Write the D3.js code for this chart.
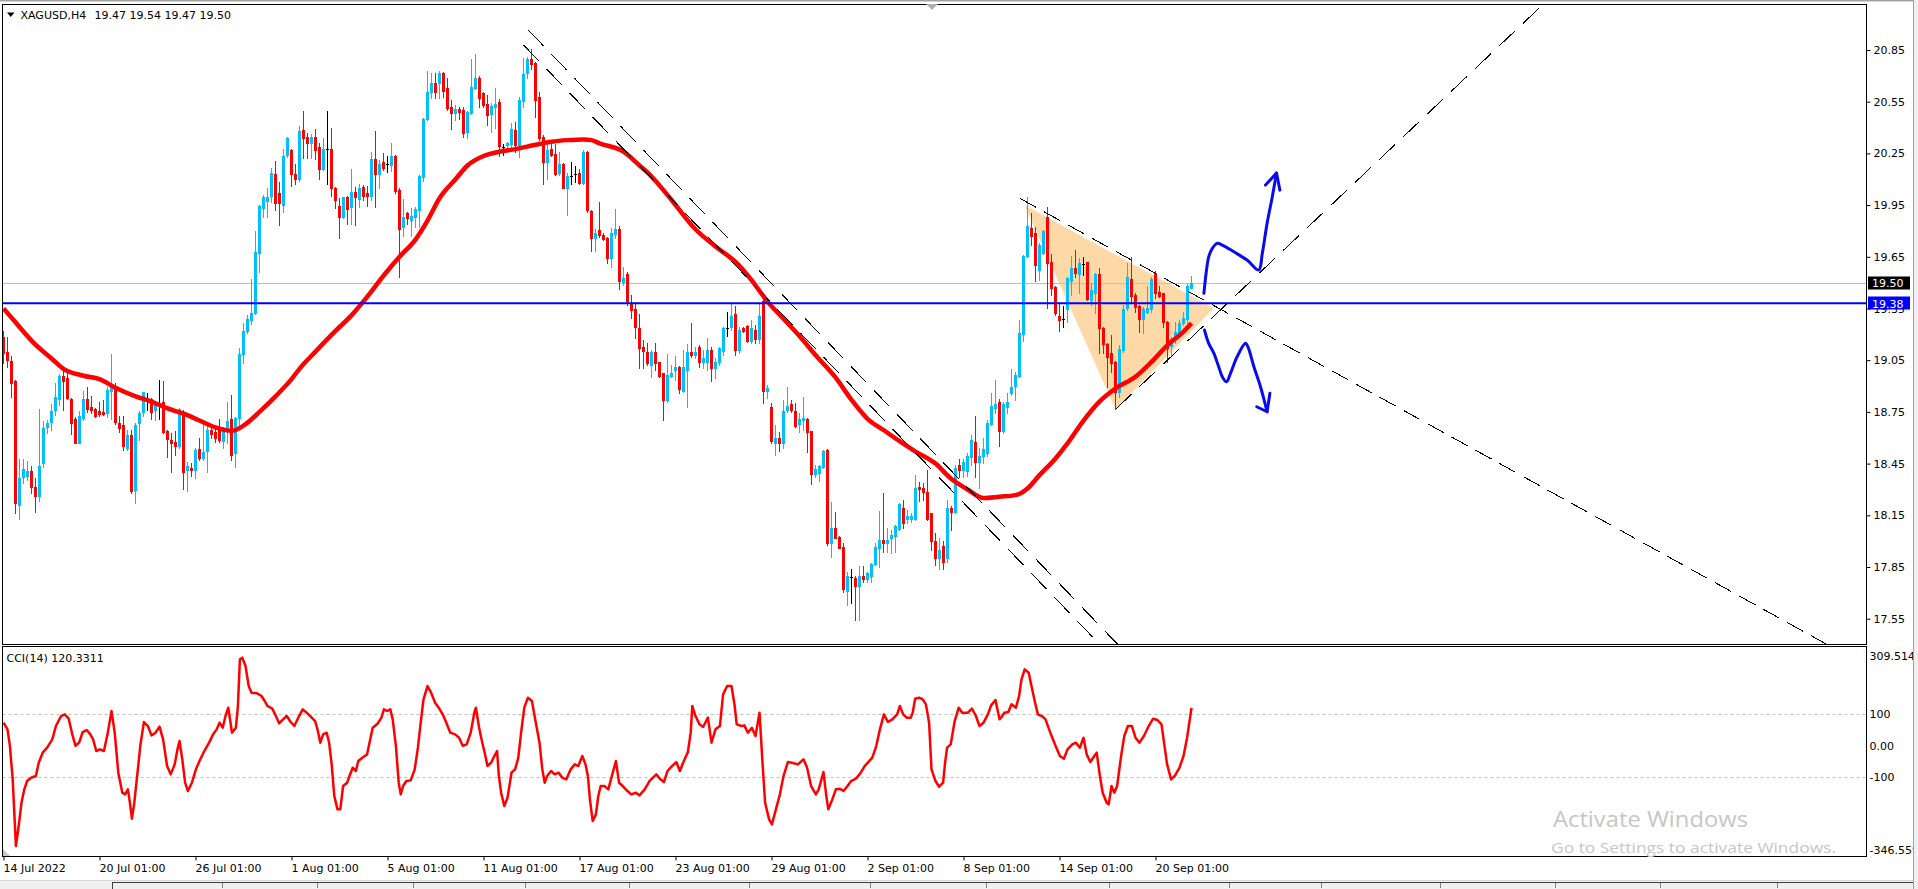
<!DOCTYPE html>
<html><head><meta charset="utf-8">
<script src="https://cdn.jsdelivr.net/npm/d3@7"></script>
<style>
html,body{margin:0;padding:0;background:#fff;overflow:hidden}
svg{display:block}
text{font-family:"DejaVu Sans",sans-serif;font-size:11px;fill:#000}
</style></head><body>
<svg id="c" width="1918" height="889"></svg>
<script>
// ---------------- DATA ----------------
const symbolTitle = "XAGUSD,H4";
const titleOHLC = "19.47 19.54 19.47 19.50";
const cciTitle = "CCI(14) 120.3311";

const opens = [19.186,19.099,19.045,18.929,18.209,18.374,18.378,18.407,18.316,18.262,
18.451,18.664,18.693,18.761,18.823,18.960,18.948,18.825,18.709,18.571,
18.712,18.825,18.776,18.765,18.755,18.749,18.741,18.873,18.900,18.687,
18.674,18.542,18.616,18.296,18.683,18.747,18.815,18.823,18.761,18.803,
18.809,18.639,18.587,18.577,18.554,18.751,18.413,18.426,18.413,18.534,
18.484,18.523,18.645,18.635,18.664,18.581,18.641,18.709,18.513,18.712,
19.084,19.221,19.283,19.322,19.674,19.935,19.976,20.003,20.130,20.018,
19.951,20.241,20.270,20.130,20.099,20.386,20.343,20.308,20.343,20.289,
20.159,20.273,20.275,20.047,19.945,19.883,19.999,19.937,20.024,19.985,
20.053,20.018,20.004,20.217,20.130,20.198,20.186,20.182,20.235,20.037,
19.825,19.902,19.863,19.883,19.921,20.115,20.449,20.604,20.660,20.656,
20.718,20.631,20.517,20.486,20.508,20.502,20.376,20.486,20.631,20.689,
20.598,20.535,20.477,20.521,20.550,20.289,20.299,20.304,20.386,20.299,
20.556,20.715,20.798,20.773,20.579,20.347,20.198,20.273,20.244,20.134,
20.188,20.051,20.121,20.128,20.138,20.076,20.260,19.916,19.757,19.805,
19.776,19.757,19.644,19.780,19.810,19.505,19.550,19.376,19.345,19.234,
19.128,19.099,19.021,19.099,19.037,18.973,18.818,18.960,18.996,19.012,
18.871,18.996,19.095,19.079,19.128,19.041,19.041,19.109,19.002,19.037,
19.105,19.234,19.244,19.317,19.109,19.238,19.248,19.163,19.225,19.172,
19.393,18.871,18.780,18.571,18.596,18.567,18.760,18.795,18.755,18.679,
18.702,18.708,18.638,18.389,18.393,18.428,18.528,17.990,18.077,18.025,
17.967,17.710,17.793,17.787,17.741,17.799,17.783,17.797,17.865,17.963,
18.006,17.990,18.016,18.031,18.073,18.190,18.126,18.126,18.126,18.312,
18.306,18.287,18.161,18.000,17.900,17.970,17.900,18.190,18.171,18.441,
18.412,18.409,18.490,18.577,18.461,18.494,18.509,18.679,18.774,18.809,
18.641,18.780,18.857,18.900,18.958,19.202,19.654,19.815,19.790,19.573,
19.674,19.883,19.621,19.476,19.306,19.287,19.345,19.509,19.583,19.550,
19.608,19.618,19.399,19.442,19.548,19.235,19.144,19.089,19.041,18.867,
19.109,19.351,19.519,19.428,19.364,19.287,19.331,19.345,19.554,19.444,
19.438,19.273,19.134,19.167,19.206,19.264,19.287,19.470];

const highs = [19.221,19.186,19.074,18.935,18.476,18.476,18.465,18.436,18.368,18.767,
18.697,18.703,18.794,18.919,18.970,19.001,18.974,18.830,18.722,18.755,
18.871,18.894,18.842,18.770,18.809,18.819,18.896,19.086,18.916,18.726,
18.726,18.645,18.645,18.683,18.757,18.867,18.861,18.829,18.815,18.935,
18.929,18.645,18.625,18.639,18.771,18.761,18.461,18.451,18.538,18.596,
18.693,18.693,18.664,18.654,18.707,18.664,18.809,18.848,18.718,19.119,
19.264,19.312,19.519,19.800,19.951,20.009,20.051,20.163,20.206,20.086,
20.274,20.343,20.275,20.188,20.409,20.496,20.370,20.362,20.389,20.312,
20.337,20.496,20.395,20.057,19.989,19.999,20.004,20.159,20.057,20.070,
20.066,20.061,20.260,20.380,20.211,20.250,20.235,20.308,20.240,20.047,
19.985,19.908,19.935,19.941,20.124,20.457,20.728,20.715,20.715,20.728,
20.724,20.689,20.560,20.531,20.521,20.517,20.496,20.796,20.827,20.699,
20.604,20.589,20.540,20.631,20.564,20.302,20.314,20.424,20.434,20.579,
20.802,20.811,20.854,20.780,20.608,20.357,20.328,20.302,20.302,20.260,
20.192,20.134,20.198,20.177,20.157,20.270,20.264,19.920,19.809,19.970,
19.786,19.766,19.820,19.930,19.830,19.592,19.563,19.428,19.389,19.316,
19.167,19.147,19.109,19.147,19.041,18.978,19.085,19.022,19.074,19.016,
19.109,19.143,19.267,19.128,19.138,19.109,19.180,19.128,19.064,19.128,
19.244,19.331,19.383,19.364,19.244,19.244,19.252,19.283,19.254,19.389,
19.397,18.905,18.803,18.673,18.635,18.818,18.896,18.818,18.799,18.741,
18.838,18.712,18.642,18.441,18.441,18.528,18.532,18.228,18.170,18.029,
17.987,17.822,17.836,17.799,17.855,17.855,17.822,17.875,17.987,18.174,
18.277,18.077,18.064,18.093,18.219,18.238,18.180,18.161,18.383,18.345,
18.335,18.412,18.165,18.050,18.020,18.000,18.238,18.203,18.441,18.474,
18.474,18.513,18.616,18.726,18.538,18.596,18.703,18.857,18.935,18.822,
18.809,18.857,18.997,18.983,19.283,19.660,19.999,19.902,19.825,19.728,
19.805,19.941,19.666,19.480,19.374,19.364,19.534,19.654,19.689,19.641,
19.650,19.622,19.496,19.554,19.583,19.244,19.148,19.196,19.045,19.138,
19.370,19.612,19.647,19.438,19.370,19.360,19.480,19.534,19.569,19.480,
19.442,19.279,19.186,19.273,19.283,19.331,19.492,19.540];

const lows = [19.035,19.012,18.834,18.165,18.126,18.335,18.354,18.277,18.171,18.235,
18.432,18.625,18.645,18.732,18.790,18.761,18.823,18.621,18.567,18.567,
18.703,18.751,18.745,18.722,18.728,18.732,18.718,18.707,18.680,18.635,
18.529,18.529,18.277,18.223,18.587,18.728,18.761,18.709,18.703,18.709,
18.625,18.490,18.403,18.500,18.538,18.300,18.293,18.378,18.364,18.471,
18.471,18.403,18.596,18.577,18.577,18.538,18.567,18.471,18.432,18.664,
19.032,19.206,19.258,19.316,19.564,19.883,19.883,19.970,19.921,19.834,
19.912,20.230,20.061,20.072,20.090,20.225,20.221,20.225,20.215,20.101,
20.153,20.072,20.004,19.935,19.761,19.873,19.840,19.840,19.834,19.941,
19.979,19.945,19.979,19.941,20.047,20.153,20.144,20.150,20.018,19.534,
19.772,19.840,19.772,19.825,19.825,20.092,20.444,20.569,20.573,20.569,
20.579,20.502,20.391,20.444,20.448,20.343,20.337,20.478,20.622,20.521,
20.517,20.415,20.376,20.395,20.235,20.241,20.270,20.270,20.260,20.231,
20.521,20.685,20.738,20.463,20.328,20.072,20.101,20.235,20.124,20.124,
20.047,19.892,20.072,20.082,20.072,20.072,19.912,19.685,19.685,19.767,
19.747,19.615,19.592,19.760,19.466,19.486,19.370,19.292,19.176,19.002,
19.002,19.021,18.954,18.992,18.954,18.702,18.809,18.954,18.934,18.857,
18.867,18.780,19.066,19.060,19.012,19.002,18.992,18.931,18.944,19.021,
19.080,19.190,19.228,19.080,19.093,19.215,19.157,19.147,19.147,19.147,
18.803,18.832,18.567,18.499,18.524,18.538,18.751,18.751,18.664,18.635,
18.644,18.515,18.331,18.373,18.350,18.422,17.977,17.909,18.016,17.960,
17.706,17.629,17.642,17.541,17.541,17.764,17.764,17.764,17.861,17.851,
17.938,17.938,17.934,17.938,18.064,18.074,18.103,18.112,18.122,18.234,
18.238,18.122,17.950,17.860,17.840,17.840,17.880,18.064,18.161,18.374,
18.374,18.378,18.441,18.374,18.306,18.455,18.494,18.674,18.741,18.554,
18.625,18.741,18.848,18.819,18.954,19.163,19.651,19.718,19.511,19.515,
19.666,19.351,19.428,19.312,19.221,19.244,19.273,19.428,19.534,19.438,
19.544,19.399,19.370,19.322,19.093,19.093,18.896,18.983,18.765,18.838,
19.099,19.341,19.389,19.331,19.215,19.206,19.326,19.331,19.409,19.415,
19.244,19.041,19.080,19.148,19.186,19.254,19.264,19.470];

const closes = [19.093,19.051,18.916,18.223,18.368,18.418,18.409,18.312,18.262,18.436,
18.658,18.687,18.755,18.838,18.960,18.931,18.832,18.683,18.571,18.726,
18.823,18.767,18.761,18.726,18.736,18.736,18.877,18.896,18.689,18.654,
18.554,18.616,18.293,18.674,18.745,18.863,18.815,18.751,18.790,18.803,
18.635,18.592,18.567,18.554,18.765,18.403,18.436,18.413,18.529,18.480,
18.519,18.645,18.620,18.596,18.587,18.645,18.697,18.500,18.712,19.086,
19.221,19.289,19.322,19.680,19.945,19.999,19.999,20.134,19.960,19.964,
20.235,20.337,20.130,20.101,20.380,20.341,20.308,20.347,20.270,20.159,
20.275,20.273,20.047,19.979,19.883,19.995,19.927,20.024,19.999,20.047,
20.004,20.004,20.217,20.128,20.188,20.163,20.186,20.235,20.032,19.811,
19.883,19.877,19.887,19.927,20.121,20.449,20.608,20.656,20.604,20.718,
20.612,20.515,20.486,20.508,20.492,20.366,20.492,20.637,20.685,20.573,
20.531,20.473,20.525,20.537,20.295,20.289,20.308,20.389,20.299,20.560,
20.709,20.796,20.767,20.560,20.337,20.198,20.270,20.241,20.130,20.188,
20.051,20.119,20.121,20.128,20.076,20.260,19.921,19.761,19.790,19.776,
19.751,19.641,19.790,19.810,19.509,19.528,19.393,19.341,19.244,19.122,
19.103,19.035,19.099,19.035,18.960,18.818,18.967,18.977,19.008,18.882,
19.012,19.099,19.079,19.099,19.041,19.060,19.109,19.002,19.041,19.118,
19.238,19.234,19.306,19.109,19.228,19.221,19.163,19.238,19.172,19.306,
18.871,18.890,18.580,18.596,18.571,18.755,18.784,18.760,18.667,18.706,
18.712,18.635,18.389,18.418,18.435,18.524,17.987,18.077,18.021,17.963,
17.720,17.799,17.793,17.741,17.797,17.783,17.816,17.870,17.967,18.006,
17.987,18.006,18.035,18.089,18.215,18.103,18.145,18.145,18.306,18.300,
18.287,18.126,18.000,17.900,17.950,17.880,18.190,18.171,18.422,18.412,
18.461,18.494,18.587,18.461,18.494,18.532,18.683,18.784,18.795,18.641,
18.795,18.809,18.892,18.964,19.206,19.654,19.829,19.772,19.602,19.718,
19.800,19.616,19.471,19.322,19.283,19.287,19.529,19.583,19.554,19.612,
19.608,19.403,19.457,19.548,19.235,19.144,19.070,19.035,18.867,19.113,
19.347,19.534,19.422,19.360,19.287,19.347,19.351,19.519,19.442,19.422,
19.273,19.119,19.171,19.215,19.264,19.293,19.480,19.500];

// moving average: [bar, price]
const maPoints = [[0,19.35],[3,19.27],[8,19.14],[12,19.06],[15,19.00],[20,18.96],[24,18.94],[28,18.89],
[33,18.84],[37,18.81],[41,18.77],[45,18.74],[49,18.70],[53,18.66],[57,18.64],[60,18.67],[64,18.75],
[68,18.84],[72,18.94],[74,19.00],[78,19.10],[83,19.22],[87,19.31],[91,19.42],[95,19.54],[99,19.65],
[103,19.75],[106,19.86],[109,19.99],[113,20.10],[116,20.18],[120,20.235],[124,20.26],[128,20.275],
[133,20.30],[137,20.318],[141,20.327],[145,20.331],[147,20.327],[149,20.308],[155,20.26],[159,20.18],
[161,20.14],[167,19.98],[173,19.81],[178,19.71],[183,19.62],[187,19.515],[191,19.39],[195,19.29],
[199,19.19],[203,19.08],[208,18.95],[212,18.82],[216,18.71],[220,18.645],[224,18.58],[228,18.52],
[233,18.45],[237,18.36],[241,18.30],[245,18.25],[249,18.258],[253,18.267],[256,18.306],[259,18.383],
[263,18.48],[266,18.567],[270,18.70],[274,18.81],[278,18.886],[283,18.954],[287,19.04],[291,19.138],
[295,19.215],[297,19.264]];

// CCI(14): [bar, value]
const cciPoints = [[0,73.4],[1.0,52.2],[1.6,0],[2.3,-106.5],[3.1,-318.1],[3.8,-254.6],[4.5,-180.6],[5.2,-138.2],
[5.9,-111.8],[6.9,-101.2],[8.1,-95.9],[8.8,-53.6],[9.8,-21.8],[10.9,-5.9],[12.2,20.5],[13.1,62.8],[14.4,94.6],
[15.3,99.9],[16.3,86.1],[17.2,36.4],[18.0,0],[18.9,10.0],[19.8,43.8],[20.8,50.1],[21.7,36.4],[22.4,20.5],
[23.2,-16.5],[24.1,-11.2],[25.1,-16.5],[26.0,36.4],[27.0,110.5],[27.8,41.7],[28.7,-85.3],[29.7,-148.8],
[30.4,-154.1],[31.1,-138.2],[31.6,-180.6],[32.1,-231.3],[32.7,-180.6],[33.5,-85.3],[34.2,0],[35.1,75.5],
[36.1,62.8],[37.0,33.2],[38.0,41.7],[39.0,60.7],[39.9,20.5],[40.9,-64.2],[41.8,-90.6],[42.8,-58.9],
[43.5,-11.2],[44.0,15.2],[44.7,-43.0],[45.4,-117.1],[46.1,-143.5],[47.1,-117.1],[48.1,-74.7],[49.0,-48.3],
[50.2,-16.5],[51.4,10.0],[52.4,36.4],[53.3,52.2],[54.0,73.4],[54.8,57.5],[55.5,94.6],[56.2,121.0],
[56.7,78.7],[57.1,41.7],[58.1,57.5],[58.6,126.3],[59.1,274.5],[59.7,279.8],[60.5,253.3],[61.3,189.8],
[62.0,168.7],[63.4,166.5],[64.5,158.1],[65.3,142.2],[66.0,126.3],[67.2,117.9],[67.9,99.9],[68.9,71.3],
[69.9,84.0],[70.8,94.6],[71.8,75.5],[72.7,62.8],[73.7,89.3],[74.8,115.7],[75.8,105.2],[76.8,92.5],
[77.9,78.7],[78.5,52.2],[79.2,10.0],[79.9,36.4],[80.8,41.7],[81.4,10.0],[82.0,-53.6],[82.7,-159.4],
[83.5,-201.7],[84.2,-201.7],[84.9,-127.6],[85.9,-117.1],[86.5,-95.9],[87.3,-69.4],[88.1,-80.0],[88.7,-48.3],
[89.7,-37.7],[90.9,-27.1],[91.6,15.2],[92.3,57.5],[93.5,70.2],[94.5,89.3],[95.1,115.7],[95.9,110.5],
[96.7,115.7],[97.3,84.0],[98.1,0],[98.8,-117.1],[99.3,-154.1],[99.9,-127.6],[100.7,-111.8],[101.8,-109.7],
[102.8,-74.7],[103.6,-5.9],[104.3,73.4],[105.0,147.5],[106.0,189.8],[106.9,168.7],[107.9,136.9],[108.8,121.0],
[109.8,99.9],[110.7,73.4],[111.7,41.7],[112.9,36.4],[113.9,25.8],[114.8,0],[115.8,4.6],[116.8,41.7],
[117.7,105.2],[118.1,121.0],[118.9,57.5],[119.6,15.2],[120.3,-21.8],[121.0,-64.2],[121.9,-53.6],[122.7,-32.4],
[123.4,-16.5],[123.8,-90.6],[124.4,-148.8],[125.2,-191.1],[126.0,-164.7],[127.0,-85.3],[127.9,-74.7],
[128.7,-37.7],[129.4,41.7],[130.2,121.0],[131.1,152.8],[132.1,142.2],[133.0,78.7],[134.0,10.0],[134.7,-74.7],
[135.3,-117.1],[135.9,-95.9],[136.9,-80.0],[137.8,-90.6],[138.8,-85.3],[139.7,-101.2],[140.7,-106.5],
[141.8,-74.7],[142.8,-58.9],[143.7,-64.2],[144.7,-32.4],[145.5,-58.9],[146.1,-95.9],[146.6,-170.0],
[147.3,-238.8],[148.1,-217.6],[148.7,-159.4],[149.3,-127.6],[150.2,-127.6],[151.2,-138.2],[152.2,-90.6],
[153.1,-48.3],[153.9,-117.1],[154.8,-127.6],[156.0,-143.5],[156.9,-154.1],[158.1,-148.8],[159.0,-157.3],
[160.3,-138.2],[161.5,-111.8],[163.2,-90.6],[164.1,-104.4],[165.1,-114.9],[166.0,-80.0],[167.0,-66.3],
[168.2,-51.5],[169.1,-80.0],[169.9,-53.6],[171.1,-19.7],[171.8,41.7],[172.2,126.3],[173.0,94.6],[174.0,68.1],
[174.9,59.7],[176.1,89.3],[177.0,10.0],[178.0,52.2],[179.1,62.8],[179.9,163.4],[180.9,189.8],[182.0,189.8],
[182.8,126.3],[183.3,68.1],[184.5,62.8],[185.2,64.9],[186.1,41.7],[187.1,57.5],[188.0,31.1],[189.0,105.2],
[189.7,-43.0],[190.4,-180.6],[191.4,-233.5],[192.1,-249.4],[193.1,-201.7],[194.1,-154.1],[195.0,-95.9],
[196.1,-51.5],[197.1,-53.6],[198.6,-58.9],[200.0,-43.0],[200.9,-69.4],[201.9,-127.6],[203.1,-154.1],
[203.8,-138.2],[205.0,-83.2],[205.7,-159.4],[206.2,-201.7],[207.2,-170.0],[208.1,-138.2],[209.1,-136.1],
[210.0,-143.5],[211.0,-127.6],[211.9,-111.8],[213.2,-103.3],[214.3,-85.3],[215.3,-64.2],[217.2,-37.7],
[218.2,0],[219.1,52.2],[220.1,99.9],[221.1,75.5],[222.2,84.0],[223.4,99.9],[224.1,126.3],[224.9,99.9],
[225.8,89.3],[226.8,89.3],[227.3,105.2],[227.9,149.6],[228.9,152.8],[229.8,147.5],[230.6,131.6],[231.4,73.4],
[232.0,-74.7],[233.0,-111.8],[233.9,-129.8],[234.9,-117.1],[235.4,-53.6],[235.9,-5.9],[236.8,4.6],[237.8,78.7],
[238.8,121.0],[239.7,105.2],[241.1,105.2],[242.1,117.9],[243.1,94.6],[244.0,62.8],[245.0,73.4],[246.1,99.9],
[246.9,128.4],[248.0,145.4],[249.0,84.0],[249.6,92.5],[250.2,105.2],[251.2,107.3],[252.0,131.6],[253.1,121.0],
[253.9,158.1],[254.5,211.0],[255.3,242.7],[256.3,232.1],[256.9,195.1],[257.9,136.9],[258.6,99.9],[259.8,92.5],
[260.5,84.0],[261.7,41.7],[263.0,0],[264.1,-32.4],[265.1,-40.9],[266.0,-11.2],[267.2,4.6],[268.1,10.0],
[269.1,-5.9],[270.0,25.8],[270.8,-27.1],[271.7,-51.5],[272.7,-32.4],[273.3,-21.8],[274.1,-95.9],[274.8,-148.8],
[275.8,-180.6],[276.3,-185.9],[277.0,-127.6],[277.7,-148.8],[278.4,-127.6],[279.4,-32.4],[280.2,31.1],
[281.1,62.8],[282.1,62.8],[283.0,25.8],[284.0,10.0],[285.1,31.1],[286.3,62.8],[287.4,86.1],[288.5,81.9],
[289.5,68.1],[290.2,4.6],[290.9,-58.9],[291.9,-106.5],[292.8,-95.9],[294.0,-69.4],[295.0,-32.4],[295.9,25.8],
[296.7,94.6],[297.0,120.33]];

const priceTicks = [20.85,20.55,20.25,19.95,19.65,19.35,19.05,18.75,18.45,18.15,17.85,17.55];
const timeTickBars = [0,24,48,72,96,120,144,168,192,216,240,264,288];
const timeTickLabels = ["14 Jul 2022","20 Jul 01:00","26 Jul 01:00","1 Aug 01:00","5 Aug 01:00","11 Aug 01:00",
  "17 Aug 01:00","23 Aug 01:00","29 Aug 01:00","2 Sep 01:00","8 Sep 01:00","14 Sep 01:00","20 Sep 01:00"];
const cciLevels = [100,-100];
const cciAxisValues = [309.514,100,0,-100,-346.559];
const cciAxisLabels = ["309.514","100","0.00","-100","-346.559"];
const bidPrice = 19.50, bidLabel = "19.50";
const levelPrice = 19.38, levelLabel = "19.38";

// chart drawings in (bar, price)
const trendLines = [
  [[131.2,20.966],[278.5,17.402]],
  [[130.0,20.879],[274.0,17.402]],
  [[254.1,19.989],[455.75,17.402]],
  [[278.0,18.765],[384.9,21.115]]
];
const trianglePts = [[255.25,19.950],[278.0,18.765],[302.6,19.351]];
const arrowUp = [[300.1,19.438],[300.75,19.573],[301.3,19.650],[302.2,19.699],[303.4,19.728],[304.7,19.718],
  [307.6,19.679],[310.9,19.631],[313.8,19.573],[314.7,19.670],[315.9,19.844],[317.2,19.999],[318.25,20.136]];
const arrowUpHead = [[315.5,20.066],[318.25,20.136],[319.1,20.037]];
const arrowDown = [[300.25,19.225],[301.3,19.148],[302.6,19.090],[303.8,19.012],[304.7,18.954],[305.75,18.925],
  [306.75,18.974],[308.4,19.070],[310.5,19.148],[311.1,19.128],[312.6,19.012],[314.25,18.896],[315.9,18.751]];
const arrowDownHead = [[313.3,18.780],[315.9,18.751],[316.6,18.858]];

// ---------------- LAYOUT ----------------
const svg = d3.select('#c');
const L = 2.5, R = 1866.5, mT = 4.5, mB = 644.5, cT = 646.5, cB = 856.5;
const x = d3.scaleLinear().domain([0,1]).range([3.5,7.5]);
const y = d3.scaleLinear().domain([17.55,20.85]).range([618.7,50]);
const yc = d3.scaleLinear().domain([-346.559,309.514]).range([855,648.3]);

svg.append('rect').attr('width',1918).attr('height',889).attr('fill','#fff');
const defs = svg.append('defs');
defs.append('clipPath').attr('id','cm').append('rect').attr('x',3).attr('y',5).attr('width',1863).attr('height',639);
defs.append('clipPath').attr('id','cc').append('rect').attr('x',3).attr('y',647).attr('width',1863).attr('height',209);
defs.append('clipPath').attr('id','cl').append('rect').attr('x',1866).attr('y',0).attr('width',47).attr('height',889);

// window top line
svg.append('line').attr('x1',0).attr('x2',1918).attr('y1',0.5).attr('y2',0.5).attr('stroke','#a0a0a0');
svg.append('line').attr('x1',0).attr('x2',1918).attr('y1',1.5).attr('y2',1.5).attr('stroke','#d4d4d4');

const main = svg.append('g').attr('clip-path','url(#cm)');

// triangle fill
main.append('polygon').attr('points', trianglePts.map(p=>[x(p[0]),y(p[1])].join(',')).join(' '))
  .attr('fill','#fdd9a8');

// bid line
main.append('line').attr('x1',L).attr('x2',R).attr('y1',Math.round(y(bidPrice))+0.5).attr('y2',Math.round(y(bidPrice))+0.5)
  .attr('stroke','#c0c0c0');

// candles
const idx = d3.range(Math.min(opens.length,highs.length,lows.length,closes.length));
const colOf = i => opens[i]===closes[i] ? '#000000' : (closes[i]>opens[i] ? '#00bfff' : '#ff0000');
const cg = main.append('g').attr('shape-rendering','crispEdges');
cg.selectAll('rect.w').data(idx).join('rect').attr('class','w')
  .attr('x', i=>Math.floor(x(i)))
  .attr('y', i=>Math.round(y(highs[i])))
  .attr('width',1)
  .attr('height', i=>Math.max(1, Math.round(y(lows[i]))-Math.round(y(highs[i]))+1))
  .attr('fill', colOf);
cg.selectAll('rect.b').data(idx).join('rect').attr('class','b')
  .attr('x', i=>Math.floor(x(i))-1)
  .attr('y', i=>Math.round(y(Math.max(opens[i],closes[i]))))
  .attr('width',3)
  .attr('height', i=>Math.max(1, Math.round(y(Math.min(opens[i],closes[i])))-Math.round(y(Math.max(opens[i],closes[i])))+1))
  .attr('fill', colOf);

// MA
main.append('path').datum(maPoints)
  .attr('d', d3.line().x(d=>x(d[0])).y(d=>y(d[1])).curve(d3.curveMonotoneX))
  .attr('fill','none').attr('stroke','#ff0000').attr('stroke-width',4.5).attr('stroke-linejoin','round');

// horizontal level line
main.append('line').attr('x1',L).attr('x2',R).attr('y1',y(levelPrice)).attr('y2',y(levelPrice))
  .attr('stroke','#0000ff').attr('stroke-width',2);

// dashed trend lines
trendLines.forEach(t=>{
  const x1=x(t[0][0]), y1=y(t[0][1]), x2=x(t[1][0]), y2=y(t[1][1]);
  const dx=Math.abs(x2-x1), dy=Math.abs(y2-y1);
  const f=Math.hypot(dx,dy)/Math.max(dx,dy);
  main.append('line').attr('x1',x1).attr('y1',y1).attr('x2',x2).attr('y2',y2)
    .attr('stroke','#000').attr('stroke-width',1)
    .attr('stroke-dasharray', (16*f).toFixed(1)+','+(8*f).toFixed(1))
    .attr('shape-rendering','crispEdges');
});

// blue hand-drawn arrows
const ln = d3.line().x(d=>x(d[0])).y(d=>y(d[1])).curve(d3.curveCatmullRom.alpha(0.5));
const lnS = d3.line().x(d=>x(d[0])).y(d=>y(d[1]));
[[arrowUp,ln],[arrowUpHead,lnS],[arrowDown,ln],[arrowDownHead,lnS]].forEach(([pts,f])=>{
  main.append('path').datum(pts).attr('d',f).attr('fill','none').attr('stroke','#0a0aee')
    .attr('stroke-width',3).attr('stroke-linejoin','round').attr('stroke-linecap','round');
});

// title
svg.append('polygon').attr('points','7,12.5 14.5,12.5 10.75,17').attr('fill','#000');
svg.append('text').attr('x',20.5).attr('y',19).text(symbolTitle);
svg.append('text').attr('x',94.5).attr('y',19).text(titleOHLC);

// frames
svg.append('rect').attr('x',L).attr('y',mT).attr('width',R-L).attr('height',mB-mT).attr('fill','none').attr('stroke','#000');
svg.append('rect').attr('x',L).attr('y',cT).attr('width',R-L).attr('height',cB-cT).attr('fill','none').attr('stroke','#000');

// price axis (label under the 19.38 box is left out: the box covers it)
const pa = svg.append('g').attr('transform','translate('+R+',0)')
  .call(d3.axisRight(y).tickValues(priceTicks).tickSize(4).tickPadding(3).tickFormat(d3.format('.2f')));
pa.select('.domain').remove();
pa.selectAll('text').attr('font-family','"DejaVu Sans",sans-serif').attr('font-size',11).attr('fill','#000');
pa.selectAll('line').attr('stroke','#000');

// price boxes
function priceBox(p,label,bg){
  const yy = y(p);
  svg.append('rect').attr('x',1868).attr('y',Math.round(yy)-6.5).attr('width',42).attr('height',13).attr('fill',bg);
  svg.append('text').attr('x',1872).attr('y',yy+4.5).attr('fill','#fff').style('fill','#fff').text(label);
}
priceBox(bidPrice,bidLabel,'#000000');
priceBox(levelPrice,levelLabel,'#0000ff');

// CCI panel
const cg2 = svg.append('g').attr('clip-path','url(#cc)');
cciLevels.forEach(v=>{
  cg2.append('line').attr('x1',L).attr('x2',R).attr('y1',Math.round(yc(v))+0.5).attr('y2',Math.round(yc(v))+0.5)
    .attr('stroke','#c0c0c0').attr('stroke-dasharray','3,3');
});
cg2.append('path').datum(cciPoints)
  .attr('d', d3.line().x(d=>x(d[0])).y(d=>yc(d[1])))
  .attr('fill','none').attr('stroke','#ff0000').attr('stroke-width',2.5).attr('stroke-linejoin','round');
cg2.append('polygon').attr('points','3,849 3,856 10,856').attr('fill','#c8c8c8');
svg.append('text').attr('x',6.5).attr('y',662).text(cciTitle);
const cl = svg.append('g').attr('clip-path','url(#cl)');
cciAxisValues.forEach((v,i)=>{
  const yy = Math.max(656, Math.min(850, yc(v)));
  cl.append('text').attr('x',1869.5).attr('y',yy+4).text(cciAxisLabels[i]);
});

// time axis
const ta = svg.append('g').attr('transform','translate(0,'+cB+')')
  .call(d3.axisBottom(x).tickValues(timeTickBars).tickSize(4).tickPadding(4)
     .tickFormat((d,i)=>timeTickLabels[i]));
ta.select('.domain').remove();
ta.selectAll('text').attr('text-anchor','start').attr('x',-0.5)
  .attr('font-family','"DejaVu Sans",sans-serif').attr('font-size',11).attr('fill','#000');
ta.selectAll('line').attr('stroke','#000');

// top centre shift marker
svg.append('polygon').attr('points','926,4 938,4 932,10').attr('fill','#b0b0b0');

// bottom strip
svg.append('rect').attr('x',0).attr('y',880).attr('width',1918).attr('height',9).attr('fill','#f0f0f0');
svg.append('line').attr('x1',0).attr('x2',1918).attr('y1',880.5).attr('y2',880.5).attr('stroke','#d8d8d8');
svg.append('line').attr('x1',112).attr('x2',1913).attr('y1',882.5).attr('y2',882.5).attr('stroke','#404040');
svg.append('line').attr('x1',112.5).attr('x2',112.5).attr('y1',882).attr('y2',889).attr('stroke','#404040');
[222,317,413,525,629,749,870,986,1109,1229,1321,1440,1555,1660,1777].forEach(px=>{
  svg.append('line').attr('x1',px+0.5).attr('x2',px+0.5).attr('y1',883).attr('y2',888).attr('stroke','#808080');
});

// right window border
svg.append('rect').attr('x',1913).attr('y',0).attr('width',5).attr('height',889).attr('fill','#f0f0f0');
svg.append('line').attr('x1',1913.5).attr('x2',1913.5).attr('y1',0).attr('y2',889).attr('stroke','#a0a0a0');

// watermark
svg.append('text').attr('x',1553).attr('y',827).attr('textLength',195).attr('lengthAdjust','spacingAndGlyphs')
  .style('fill','#c6c6c6').style('font-size','22px').style('font-family','"Open Sans","Noto Sans",sans-serif')
  .text('Activate Windows');
svg.append('text').attr('x',1551).attr('y',853).attr('textLength',285).attr('lengthAdjust','spacingAndGlyphs')
  .style('fill','#c6c6c6').style('font-size','14.5px').style('font-family','"Open Sans","Noto Sans",sans-serif')
  .text('Go to Settings to activate Windows.');
</script>
</body></html>
